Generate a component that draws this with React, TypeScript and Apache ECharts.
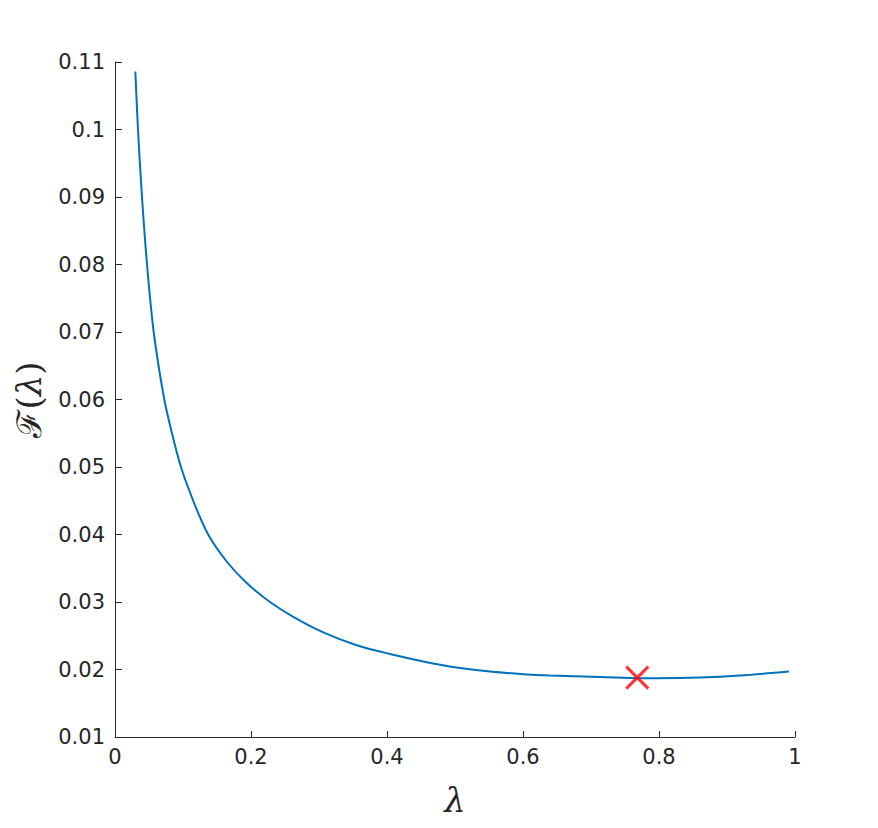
import React, { useEffect, useRef } from "react";
import * as echarts from "echarts";

const lambdaValues = [0.0299, 0.0338, 0.0397, 0.0471, 0.0569, 0.0725, 0.0845, 0.097, 0.117, 0.137, 0.1643, 0.1937, 0.2279, 0.2622, 0.3063, 0.3554, 0.4044, 0.4534, 0.5025, 0.5515, 0.6004, 0.6397, 0.713, 0.797, 0.86, 0.919, 0.991];
const fValues = [0.1086, 0.1, 0.09, 0.08, 0.07, 0.06, 0.0547, 0.05, 0.0445, 0.04, 0.036, 0.0328, 0.03, 0.0278, 0.0255, 0.0236, 0.0223, 0.0212, 0.0203, 0.0197, 0.0193, 0.0191, 0.0189, 0.0187, 0.0188, 0.0191, 0.0197];
const optimum = [0.768, 0.0188];
const xTicks = [0, 0.2, 0.4, 0.6, 0.8, 1];
const yTicks = [0.01, 0.02, 0.03, 0.04, 0.05, 0.06, 0.07, 0.08, 0.09, 0.1, 0.11];

export default function App() {
  const ref = useRef<HTMLDivElement>(null);
  useEffect(() => {
    const chart = echarts.init(ref.current!, null, { renderer: "svg" });
    const axisColor = "#262626";
    const labelStyle = { color: axisColor, fontSize: 21, fontFamily: "DejaVu Sans" };
    chart.setOption({
      animation: false,
      backgroundColor: "#ffffff",
      grid: { left: 107, top: 54, width: 680, height: 675, containLabel: false, outerBoundsMode: "none" },
      xAxis: {
        type: "value",
        min: xTicks[0],
        max: xTicks[xTicks.length - 1],
        interval: 0.2,
        axisLine: { show: true, lineStyle: { color: axisColor, width: 1 } },
        axisTick: { show: true, inside: true, length: 6, lineStyle: { color: axisColor } },
        axisLabel: { ...labelStyle, margin: 9, formatter: (v: number) => String(+v.toFixed(2)) },
        splitLine: { show: false },
        name: "λ",
        nameLocation: "middle",
        nameGap: 46,
        nameTextStyle: { color: axisColor, fontSize: 34, lineHeight: 34, fontFamily: "DejaVu Serif", fontStyle: "italic" },
      },
      yAxis: {
        type: "value",
        min: yTicks[0],
        max: yTicks[yTicks.length - 1],
        interval: 0.01,
        axisLine: { show: true, lineStyle: { color: axisColor, width: 1 } },
        axisTick: { show: true, inside: true, length: 7, lineStyle: { color: axisColor } },
        axisLabel: { ...labelStyle, margin: 10, formatter: (v: number) => String(+v.toFixed(2)) },
        splitLine: { show: false },
        name: "{f|ℱ}{p|(}{l|λ}{p|)}",
        nameLocation: "middle",
        nameGap: 68,
        nameRotate: 90,
        nameTextStyle: {
          color: axisColor,
          fontSize: 34,
          lineHeight: 36,
          fontFamily: "DejaVu Serif",
          rich: {
            f: { fontSize: 34, lineHeight: 36, fontFamily: "DejaVu Serif", color: axisColor },
            p: { fontSize: 34, lineHeight: 36, fontFamily: "DejaVu Serif", color: axisColor },
            l: { fontSize: 34, lineHeight: 36, fontFamily: "DejaVu Serif", fontStyle: "italic", color: axisColor },
          },
        },
      },
      series: [
        {
          type: "line",
          data: lambdaValues.map((x, i) => [x, fValues[i]]),
          smooth: 0.3,
          showSymbol: false,
          symbol: "none",
          lineStyle: { color: "#0072BD", width: 2 },
        },
        {
          type: "scatter",
          data: [optimum],
          symbol: "path://M0 0L10 10M10 0L0 10",
          symbolSize: 22,
          itemStyle: { color: "none", borderColor: "#FF0000", borderWidth: 3 },
          z: 5,
        },
      ],
    });
    return () => chart.dispose();
  }, []);
  return <div ref={ref} style={{ width: 862, height: 812 }} />;
}
